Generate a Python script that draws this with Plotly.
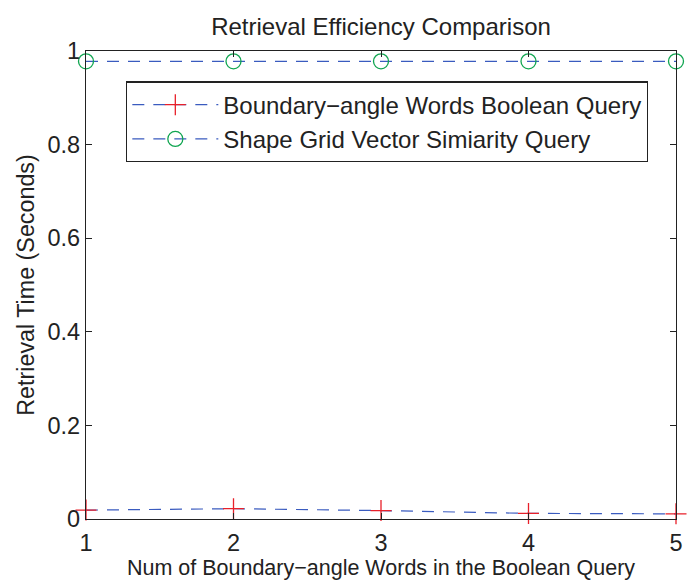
import plotly.graph_objects as go

# Number of boundary-angle words in the Boolean query
num_words = [1, 2, 3, 4, 5]
# Retrieval time in seconds for each query type
boolean_query_time = [0.019, 0.022, 0.018, 0.012, 0.011]
grid_vector_time = [0.978, 0.978, 0.978, 0.978, 0.978]

y_tick_vals = [0, 0.2, 0.4, 0.6, 0.8, 1]
y_tick_text = ["0", "0.2", "0.4", "0.6", "0.8", "1"]

FONT = "Liberation Sans, Arial, sans-serif"
LINE_BLUE = "#3a5bbf"
TEXT = "#222222"

fig = go.Figure()

fig.add_trace(go.Scatter(
    x=num_words, y=boolean_query_time,
    mode="lines+markers",
    name="Boundary\u2212angle Words Boolean Query",
    line=dict(color=LINE_BLUE, width=1.2, dash="12px,9px"),
    marker=dict(symbol="cross-thin", size=15, color="#e8202a",
                line=dict(color="#e8202a", width=1.3)),
    cliponaxis=False,
))

fig.add_trace(go.Scatter(
    x=num_words, y=grid_vector_time,
    mode="lines+markers",
    name="Shape Grid Vector Simiarity Query",
    line=dict(color=LINE_BLUE, width=1.2, dash="12px,9px"),
    marker=dict(symbol="circle-open", size=15, color="#10a550",
                line=dict(color="#10a550", width=1.3)),
    cliponaxis=False,
))

fig.update_layout(
    width=692, height=584,
    margin=dict(l=86, r=9, t=51, b=65),
    paper_bgcolor="white", plot_bgcolor="white",
    font=dict(family=FONT, color=TEXT),
    title=dict(text="Retrieval Efficiency Comparison",
               x=0.5, xref="paper", xanchor="center",
               y=1 - 27 / 584, yanchor="middle",
               font=dict(size=24, family=FONT, color=TEXT)),
    showlegend=True,
    legend=dict(x=0.068, y=0.935, xanchor="left", yanchor="top",
                bgcolor="white", bordercolor=TEXT, borderwidth=1.2,
                font=dict(size=24, family=FONT, color=TEXT),
                itemwidth=86, tracegroupgap=0),
)

fig.update_xaxes(
    range=[1, 5], tickvals=num_words, ticktext=[str(v) for v in num_words],
    showgrid=False, zeroline=False,
    showline=True, linecolor=TEXT, linewidth=1.3, mirror="ticks",
    ticks="inside", ticklen=6, tickcolor=TEXT, ticklabelstandoff=3,
    tickfont=dict(size=23.5, family=FONT, color=TEXT),
    title=dict(text="Num of Boundary\u2212angle Words in the Boolean Query",
               font=dict(size=21.5, family=FONT, color=TEXT), standoff=4),
)

fig.update_yaxes(
    range=[0, 1], tickvals=y_tick_vals, ticktext=y_tick_text,
    showgrid=False, zeroline=False,
    showline=True, linecolor=TEXT, linewidth=1.3, mirror="ticks",
    ticks="inside", ticklen=6, tickcolor=TEXT,
    tickfont=dict(size=23.5, family=FONT, color=TEXT),
    title=dict(text="Retrieval Time (Seconds)",
               font=dict(size=23.3, family=FONT, color=TEXT), standoff=6),
)

fig.write_html("out.html")
